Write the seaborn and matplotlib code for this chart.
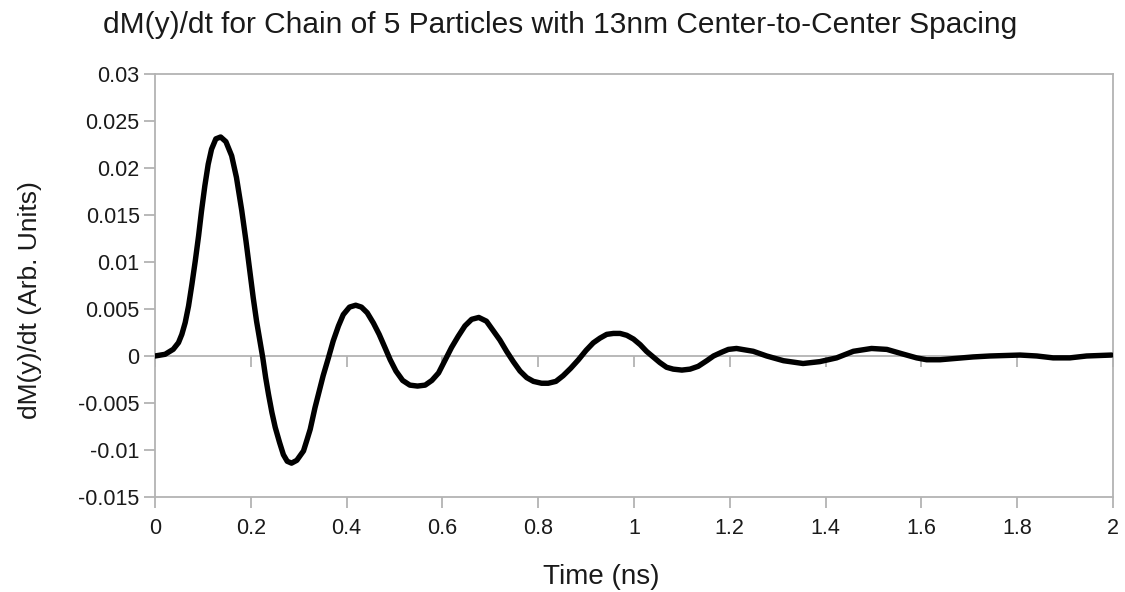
import matplotlib
matplotlib.use("Agg")
import matplotlib.pyplot as plt
import seaborn as sns
import pandas as pd

# Time samples (ns) and the corresponding dM(y)/dt values (arb. units)
time_ns = [
    0.000, 0.021, 0.038, 0.049, 0.056, 0.063, 0.070, 0.077, 0.084, 0.091,
    0.097, 0.104, 0.111, 0.118, 0.127, 0.137, 0.148, 0.160, 0.170, 0.181,
    0.190, 0.198, 0.205, 0.212, 0.219, 0.225, 0.231, 0.237, 0.244, 0.251,
    0.260, 0.268, 0.276, 0.285, 0.296, 0.310, 0.318, 0.324, 0.334, 0.341,
    0.351, 0.362, 0.372, 0.383, 0.393, 0.406, 0.419, 0.431, 0.443, 0.456,
    0.468, 0.480, 0.491, 0.503, 0.517, 0.532, 0.548, 0.564, 0.578, 0.592,
    0.605, 0.619, 0.633, 0.647, 0.661, 0.676, 0.692, 0.706, 0.720, 0.734,
    0.748, 0.762, 0.776, 0.790, 0.807, 0.821, 0.837, 0.852, 0.868, 0.884,
    0.900, 0.915, 0.929, 0.943, 0.957, 0.971, 0.985, 0.999, 1.013, 1.026,
    1.040, 1.054, 1.068, 1.082, 1.100, 1.117, 1.134, 1.152, 1.166, 1.183,
    1.197, 1.214, 1.249, 1.277, 1.312, 1.353, 1.388, 1.423, 1.458, 1.496,
    1.528, 1.562, 1.590, 1.611, 1.639, 1.708, 1.743, 1.806, 1.841, 1.875,
    1.910, 1.945, 1.997,
]
dmdt = [
    0.00000, 0.00018, 0.00071, 0.00142, 0.00230, 0.00355, 0.00532, 0.00762, 0.01010, 0.01280,
    0.01540, 0.01810, 0.02040, 0.02200, 0.02310, 0.02330, 0.02280, 0.02130, 0.01900, 0.01550,
    0.01220, 0.00900, 0.00620, 0.00370, 0.00160, -0.00020, -0.00230, -0.00410, -0.00600, -0.00760,
    -0.00920, -0.01050, -0.01120, -0.01140, -0.01110, -0.01010, -0.00880, -0.00780, -0.00550, -0.00410,
    -0.00210, -0.00020, 0.00160, 0.00320, 0.00440, 0.00520, 0.00540, 0.00520, 0.00460, 0.00350,
    0.00230, 0.00090, -0.00040, -0.00160, -0.00260, -0.00310, -0.00320, -0.00310, -0.00260, -0.00180,
    -0.00050, 0.00090, 0.00210, 0.00320, 0.00390, 0.00410, 0.00370, 0.00270, 0.00170, 0.00050,
    -0.00060, -0.00160, -0.00230, -0.00270, -0.00290, -0.00290, -0.00270, -0.00210, -0.00130, -0.00040,
    0.00060, 0.00140, 0.00190, 0.00230, 0.00240, 0.00240, 0.00220, 0.00180, 0.00120, 0.00050,
    -0.00010, -0.00070, -0.00120, -0.00140, -0.00150, -0.00140, -0.00110, -0.00050, 0.00000, 0.00040,
    0.00070, 0.00080, 0.00050, 0.00000, -0.00050, -0.00080, -0.00060, -0.00020, 0.00050, 0.00080,
    0.00070, 0.00020, -0.00020, -0.00040, -0.00040, -0.00010, 0.00000, 0.00010, 0.00000, -0.00020,
    -0.00020, 0.00000, 0.00010,
]

x_ticks = [0, 0.2, 0.4, 0.6, 0.8, 1, 1.2, 1.4, 1.6, 1.8, 2]
x_tick_labels = ["0", "0.2", "0.4", "0.6", "0.8", "1", "1.2", "1.4", "1.6", "1.8", "2"]
y_ticks = [-0.015, -0.01, -0.005, 0, 0.005, 0.01, 0.015, 0.02, 0.025, 0.03]
y_tick_labels = ["-0.015", "-0.01", "-0.005", "0", "0.005", "0.01", "0.015", "0.02", "0.025", "0.03"]

title = "dM(y)/dt for Chain of 5 Particles with 13nm Center-to-Center Spacing"
x_label = "Time (ns)"
y_label = "dM(y)/dt (Arb. Units)"

sns.set_style("white")
plt.rcParams["font.family"] = ["Liberation Sans", "DejaVu Sans"]

frame_color = "#b3b3b3"
text_color = "#1a1a1a"

df = pd.DataFrame({"t": time_ns, "v": dmdt})

fig = plt.figure(figsize=(11.25, 5.92), dpi=100)
ax = fig.add_axes([0.1378, 0.1605, 0.8515, 0.7145])

# zero line with downward ticks at the x tick positions
ax.axhline(0, color=frame_color, lw=1.3, zorder=1)
ax.plot(x_ticks, [0] * len(x_ticks), ls="", marker=3, ms=8, mew=1.3,
        color=frame_color, zorder=1)

sns.lineplot(data=df, x="t", y="v", ax=ax, color="black", lw=3.9,
             sort=False, estimator=None, zorder=3)
curve = ax.get_lines()[-1]
curve.set_solid_joinstyle("round")
curve.set_solid_capstyle("round")

ax.set_xlim(0, 2)
ax.set_ylim(-0.015, 0.03)
ax.set_xticks(x_ticks)
ax.set_xticklabels(x_tick_labels)
ax.set_yticks(y_ticks)
ax.set_yticklabels(y_tick_labels)

for s in ax.spines.values():
    s.set_visible(True)
    s.set_color(frame_color)
    s.set_linewidth(1.3)

ax.tick_params(axis="both", direction="out", length=8, width=1.3,
               color=frame_color, labelsize=15.5, labelcolor=text_color)
ax.tick_params(axis="x", pad=7)
ax.tick_params(axis="y", pad=3)
ax.tick_params(left=True, bottom=True)

ax.set_xlabel(x_label, fontsize=20, color=text_color)
ax.xaxis.set_label_coords(0.466, -0.158)
ax.set_ylabel(y_label, fontsize=19, color=text_color)
ax.yaxis.set_label_coords(-0.118, 0.466)
fig.suptitle(title, x=0.498, y=0.982, va="top", fontsize=21.5, color=text_color)

fig.savefig("out.png", dpi=100)
